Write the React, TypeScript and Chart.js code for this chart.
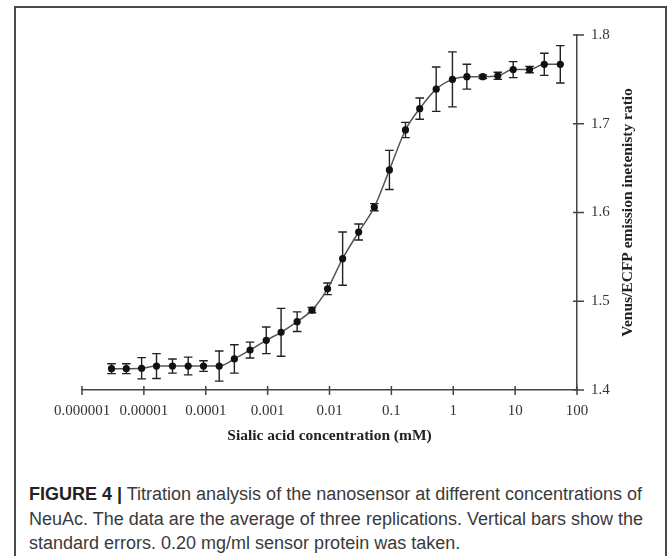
import React, { useEffect, useRef } from "react";
import { Chart, registerables } from "chart.js";

Chart.register(...registerables);

// Sialic acid concentration (mM)
const concentrations = [
  3e-6, 5.2e-6, 9.2e-6, 1.6e-5, 2.9e-5, 5.2e-5, 9.2e-5, 1.65e-4, 2.9e-4, 5.2e-4,
  9.5e-4, 1.65e-3, 3.0e-3, 5.2e-3, 9.3e-3, 1.63e-2, 2.96e-2, 5.3e-2, 9.3e-2, 0.169,
  0.287, 0.53, 0.97, 1.66, 3.0, 5.25, 9.3, 17.1, 29.6, 53.7,
];
// Venus/ECFP emission ratio
const ratios = [
  1.424, 1.424, 1.4245, 1.427, 1.427, 1.427, 1.427, 1.427, 1.435, 1.445,
  1.456, 1.465, 1.477, 1.49, 1.514, 1.548, 1.578, 1.606, 1.648, 1.693,
  1.717, 1.739, 1.75, 1.753, 1.753, 1.754, 1.761, 1.761, 1.767, 1.767,
];
// standard errors
const errors = [
  0.0056, 0.0056, 0.012, 0.014, 0.008, 0.01, 0.006, 0.017, 0.016, 0.009,
  0.015, 0.027, 0.011, 0.003, 0.0065, 0.03, 0.009, 0.004, 0.022, 0.0086,
  0.012, 0.025, 0.031, 0.014, 0.002, 0.004, 0.009, 0.0036, 0.0125, 0.021,
];

const xTickValues = [1e-6, 1e-5, 1e-4, 1e-3, 1e-2, 1e-1, 1, 10, 100];
const xTickLabels = ["0.000001", "0.00001", "0.0001", "0.001", "0.01", "0.1", "1", "10", "100"];
const yTickValues = [1.4, 1.5, 1.6, 1.7, 1.8];
const yTickLabels = ["1.4", "1.5", "1.6", "1.7", "1.8"];

const xTitle = "Sialic acid concentration (mM)";
const yTitle = "Venus/ECFP emission inetenisty ratio";

const SERIF = '"Liberation Serif", "Times New Roman", serif';

const overlayPlugin = {
  id: "overlay",
  beforeDatasetsDraw(chart: any) {
    const ctx = chart.ctx;
    const xs = chart.scales.x;
    const ys = chart.scales.y;
    ctx.save();
    ctx.strokeStyle = "#222";
    ctx.lineWidth = 1.4;
    for (let i = 0; i < concentrations.length; i++) {
      const px = xs.getPixelForValue(concentrations[i]);
      const top = ys.getPixelForValue(ratios[i] + errors[i]);
      const bot = ys.getPixelForValue(ratios[i] - errors[i]);
      const cap = 4.3;
      ctx.beginPath();
      ctx.moveTo(px, top);
      ctx.lineTo(px, bot);
      ctx.moveTo(px - cap, top);
      ctx.lineTo(px + cap, top);
      ctx.moveTo(px - cap, bot);
      ctx.lineTo(px + cap, bot);
      ctx.stroke();
    }
    ctx.restore();
  },
  afterDraw(chart: any) {
    const ctx = chart.ctx;
    const xs = chart.scales.x;
    const ys = chart.scales.y;
    const area = chart.chartArea;
    ctx.save();
    ctx.strokeStyle = "#444";
    ctx.lineWidth = 1.5;
    ctx.beginPath();
    for (const v of xTickValues) {
      const px = xs.getPixelForValue(v);
      ctx.moveTo(px, area.bottom - 4);
      ctx.lineTo(px, area.bottom + 5);
    }
    for (const v of yTickValues) {
      const py = ys.getPixelForValue(v);
      ctx.moveTo(area.right - 4, py);
      ctx.lineTo(area.right + 7, py);
    }
    ctx.stroke();

    ctx.fillStyle = "#222";
    ctx.font = `bold 15.5px ${SERIF}`;
    ctx.textAlign = "center";
    ctx.textBaseline = "middle";
    ctx.fillText(xTitle, (area.left + area.right) / 2, 436);

    ctx.translate(628, (area.top + area.bottom) / 2);
    ctx.rotate(-Math.PI / 2);
    ctx.fillText(yTitle, 0, 0);
    ctx.restore();
  },
};

function ChartView() {
  const ref = useRef<HTMLCanvasElement | null>(null);
  useEffect(() => {
    if (!ref.current) return;
    const chart = new Chart(ref.current, {
      type: "line",
      data: {
        datasets: [
          {
            data: concentrations.map((c, i) => ({ x: c, y: ratios[i] })),
            borderColor: "#555",
            borderWidth: 1.5,
            pointRadius: 3.6,
            pointBackgroundColor: "#111",
            pointBorderColor: "#111",
            pointBorderWidth: 0,
            cubicInterpolationMode: "monotone",
            fill: false,
          },
        ],
      },
      options: {
        responsive: false,
        animation: false,
        devicePixelRatio: 1,
        layout: { padding: { left: 82, top: 35, right: 22, bottom: 30 } },
        plugins: { legend: { display: false }, tooltip: { enabled: false }, title: { display: false } },
        scales: {
          x: {
            type: "logarithmic",
            min: 1e-6,
            max: 100,
            grid: { display: false, drawTicks: false },
            border: { display: true, color: "#444", width: 1.5 },
            afterBuildTicks: (axis: any) => {
              axis.ticks = xTickValues.map((v) => ({ value: v }));
            },
            afterFit: (axis: any) => {
              axis.height = 50;
            },
            ticks: {
              autoSkip: false,
              maxRotation: 0,
              minRotation: 0,
              padding: 12,
              color: "#333",
              font: { family: SERIF, size: 15 },
              callback: (_v: any, i: number) => xTickLabels[i],
            },
          },
          y: {
            type: "linear",
            position: "right",
            min: 1.4,
            max: 1.8,
            grid: { display: false, drawTicks: false },
            border: { display: true, color: "#444", width: 1.5 },
            afterBuildTicks: (axis: any) => {
              axis.ticks = yTickValues.map((v) => ({ value: v }));
            },
            afterFit: (axis: any) => {
              axis.width = 70;
            },
            ticks: {
              padding: 14,
              color: "#333",
              font: { family: SERIF, size: 15 },
              callback: (_v: any, i: number) => yTickLabels[i],
            },
          },
        },
      },
      plugins: [overlayPlugin],
    } as any);
    return () => chart.destroy();
  }, []);
  return (
    <canvas
      ref={ref}
      width={669}
      height={470}
      style={{ position: "absolute", left: 0, top: 0, width: 669, height: 470 }}
    />
  );
}

export default function App() {
  return (
    <div
      style={{
        position: "fixed",
        left: 0,
        top: 0,
        width: 669,
        height: 556,
        overflow: "hidden",
        background: "#fff",
      }}
    >
      <div
        style={{
          position: "absolute",
          left: 14,
          top: 6,
          width: 653,
          height: 570,
          boxSizing: "border-box",
          border: "2px solid #4a4a4a",
        }}
      />
      <ChartView />
      <div
        style={{
          position: "absolute",
          left: 29,
          top: 482,
          fontFamily: '"Liberation Sans", Arial, sans-serif',
          fontSize: 18,
          lineHeight: "24.5px",
          color: "#3a3a3a",
          whiteSpace: "nowrap",
        }}
      >
        <span style={{ fontWeight: "bold", color: "#222" }}>FIGURE 4 |</span> Titration analysis of the
        nanosensor at different concentrations of
        <br />
        NeuAc. The data are the average of three replications. Vertical bars show the
        <br />
        standard errors. 0.20 mg/ml sensor protein was taken.
      </div>
    </div>
  );
}
